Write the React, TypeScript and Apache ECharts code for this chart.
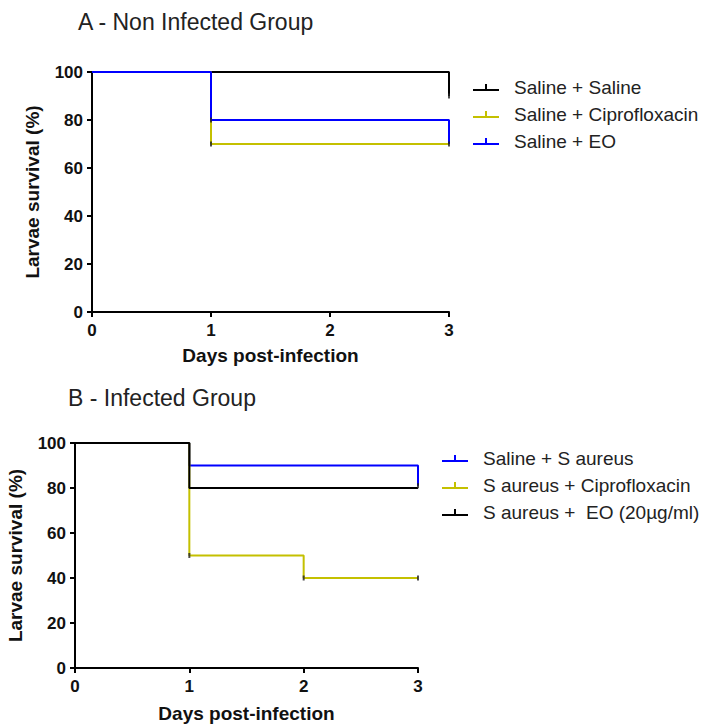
import React, { useEffect, useRef } from "react";
import * as echarts from "echarts";

// ---- Data ----
const xTicks = [0, 1, 2, 3];
const yTicks = [0, 20, 40, 60, 80, 100];

// Panel A - Non Infected Group (Kaplan-Meier step points: day, survival %)
const namesA = ["Saline + Saline", "Saline + Ciprofloxacin", "Saline + EO"];
const daysA_saline = [0, 3];
const survA_saline = [100, 90];
const daysA_cipro = [0, 1, 3];
const survA_cipro = [100, 70, 70];
const daysA_eo = [0, 1, 3];
const survA_eo = [100, 80, 70];
const censorDaysA = [1, 1, 3, 3];
const censorSurvA = [80, 70, 70, 90];

// Panel B - Infected Group
const namesB = ["Saline + S aureus", "S aureus + Ciprofloxacin", "S aureus +  EO (20µg/ml)"];
const daysB_saureus = [0, 1, 3];
const survB_saureus = [100, 90, 81];
const daysB_cipro = [0, 1, 2, 3];
const survB_cipro = [100, 50, 40, 40];
const daysB_eo = [0, 1, 3];
const survB_eo = [100, 80, 80];
const censorDaysB = [3, 1, 2, 3];
const censorSurvB = [81, 50, 40, 40];

const colors = { black: "#000000", yellow: "#c4c000", blue: "#0000ff" };

const FONT = "'Liberation Sans', Arial, Helvetica, sans-serif";
const ICON = "path://M0,5 L26,5 L26,7 L0,7 Z M12,0 L14,0 L14,5 L12,5 Z";

function zip(xs: number[], ys: number[]) {
  return xs.map((x, i) => [x, ys[i]]);
}

function stepSeries(name: string, xs: number[], ys: number[], color: string, idx: number) {
  return {
    type: "line",
    name,
    xAxisIndex: idx,
    yAxisIndex: idx,
    step: "end",
    data: zip(xs, ys),
    showSymbol: false,
    symbol: "none",
    color,
    lineStyle: { color, width: 2 },
    itemStyle: { color },
    z: 2,
  };
}

function censorSeries(xs: number[], ys: number[], idx: number) {
  return {
    type: "scatter",
    xAxisIndex: idx,
    yAxisIndex: idx,
    data: zip(xs, ys),
    symbol: "rect",
    symbolSize: [2, 5],
    itemStyle: { color: "#222" },
    z: 5,
    silent: true,
  };
}

function xAxis(idx: number, gap: number) {
  return {
    type: "value",
    gridIndex: idx,
    min: xTicks[0],
    max: xTicks[xTicks.length - 1],
    interval: 1,
    name: "Days post-infection",
    nameLocation: "middle",
    nameGap: gap,
    nameTextStyle: { fontFamily: FONT, fontSize: 19, fontWeight: "bold", color: "#111" },
    axisLine: { show: true, lineStyle: { color: "#000", width: 2 } },
    axisTick: { show: true, length: 5, lineStyle: { color: "#000", width: 2 } },
    axisLabel: { fontFamily: FONT, fontSize: 17, fontWeight: "bold", color: "#111", margin: 10 },
    splitLine: { show: false },
  };
}

function yAxis(idx: number) {
  return {
    type: "value",
    gridIndex: idx,
    min: yTicks[0],
    max: yTicks[yTicks.length - 1],
    interval: 20,
    name: "Larvae survival (%)",
    nameLocation: "middle",
    nameGap: 50,
    nameTextStyle: { fontFamily: FONT, fontSize: 19, fontWeight: "bold", color: "#111" },
    axisLine: { show: true, lineStyle: { color: "#000", width: 2 } },
    axisTick: { show: true, length: 5, lineStyle: { color: "#000", width: 2 } },
    axisLabel: { fontFamily: FONT, fontSize: 17, fontWeight: "bold", color: "#111", margin: 9 },
    splitLine: { show: false },
  };
}

function legend(names: string[], left: number, top: number) {
  return {
    orient: "vertical",
    left,
    top,
    data: names,
    icon: ICON,
    itemWidth: 26,
    itemHeight: 7,
    itemGap: 8,
    padding: 0,
    selectedMode: false,
    textStyle: { fontFamily: FONT, fontSize: 19, color: "#222", padding: [0, 0, 0, 10] },
  };
}

export default function App() {
  const ref = useRef<HTMLDivElement>(null);
  useEffect(() => {
    document.body.style.margin = "0";
    if (!ref.current) return;
    const chart = echarts.init(ref.current, undefined, { renderer: "svg" });
    chart.setOption({
      animation: false,
      backgroundColor: "#ffffff",
      title: [
        {
          text: "A - Non Infected Group",
          left: 78,
          top: 10,
          padding: 0,
          textStyle: { fontFamily: FONT, fontSize: 23, fontWeight: "normal", color: "#222" },
        },
        {
          text: "B - Infected Group",
          left: 68,
          top: 386,
          padding: 0,
          textStyle: { fontFamily: FONT, fontSize: 23, fontWeight: "normal", color: "#222" },
        },
      ],
      legend: [legend(namesA, 473, 78), legend(namesB, 442, 449)],
      grid: [
        { left: 92, top: 72, width: 357, height: 240, containLabel: false },
        { left: 75, top: 443, width: 343, height: 231, containLabel: false },
      ],
      xAxis: [xAxis(0, 34), xAxis(1, 36)],
      yAxis: [yAxis(0), yAxis(1)],
      series: [
        stepSeries(namesA[0], daysA_saline, survA_saline, colors.black, 0),
        stepSeries(namesA[1], daysA_cipro, survA_cipro, colors.yellow, 0),
        stepSeries(namesA[2], daysA_eo, survA_eo, colors.blue, 0),
        censorSeries(censorDaysA, censorSurvA, 0),
        stepSeries(namesB[0], daysB_saureus, survB_saureus, colors.blue, 1),
        stepSeries(namesB[1], daysB_cipro, survB_cipro, colors.yellow, 1),
        stepSeries(namesB[2], daysB_eo, survB_eo, colors.black, 1),
        censorSeries(censorDaysB, censorSurvB, 1),
      ],
    });
    return () => chart.dispose();
  }, []);
  return <div ref={ref} style={{ width: 702, height: 724 }} />;
}
